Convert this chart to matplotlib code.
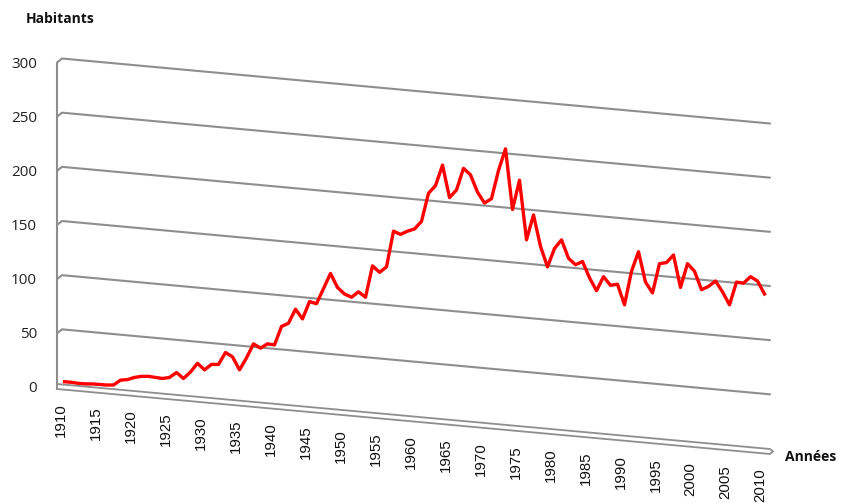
import matplotlib
matplotlib.use("Agg")
import matplotlib.pyplot as plt
import numpy as np

years = list(range(1910, 2011))
habitants = [
    3, 2.5, 1.5, 1, 1, 0.5, 0, 0, 4.5, 5,
    7, 8, 8, 7, 6, 7, 11.5, 6, 12, 20,
    14, 19, 19, 30, 26, 14, 25, 38, 34, 38,
    37, 54, 57, 70, 61, 77, 75, 89, 103, 90,
    84, 81, 86, 81, 110, 104, 109, 142, 139, 142,
    144, 151, 177, 184, 203, 173, 180, 200, 194, 178,
    168, 172, 198, 218, 162, 189, 134, 157, 128, 109,
    126, 134, 117, 111, 114, 99, 87, 100, 92, 93,
    74, 105, 123, 95, 85, 112, 113, 120, 90, 112,
    105, 88, 91, 96, 86, 74, 95, 94, 100, 96, 84,
]
ytick_values = [0, 50, 100, 150, 200, 250, 300]
xtick_years = list(range(1910, 2011, 5))
ylabel_text = "Habitants"
xlabel_text = "Années"

W, H = 845, 503
fig = plt.figure(figsize=(W / 100, H / 100), dpi=100)
ax = fig.add_axes([0, 0, 1, 1])
ax.set_axis_off()

# pixel geometry of the reference
PX_YEAR = 7.0           # pixels per year
X0_PX = 64.5            # x pixel of 1910
Y0_PX = 385.0           # y pixel (from top) of value 0 on the left wall
PX_UNIT = 325.0 / 300.0 # pixels per value unit
ax.set_xlim(1910 - X0_PX / PX_YEAR, 1910 + (W - X0_PX) / PX_YEAR)
ax.set_ylim(-(H - Y0_PX) / PX_UNIT, Y0_PX / PX_UNIT)

def px2year(xp):
    return 1910 + (xp - X0_PX) / PX_YEAR

def pxd(dp):
    return dp / PX_UNIT

SLOPE = 65.0 / 710.0  # perspective drop (px per px)

def wall(xp, v):
    """value coordinate of a point on the receding wall/floor"""
    return v - pxd((xp - 60) * SLOPE)

grid_col = "#8e8e8e"
XR = 770
# gridlines
for v in ytick_values[1:]:
    xs = [px2year(57), px2year(62), px2year(XR)]
    ys = [v - pxd(2.5), v + pxd(1.5), wall(XR, v) + pxd(1.5)]
    ax.plot(xs, ys, color=grid_col, lw=1.5, solid_capstyle="round", zorder=1)

# left wall edge
ax.plot([px2year(57), px2year(57)], [pxd(-4), 300 - pxd(2.5)], color=grid_col, lw=1.5, zorder=1)

# floor slab
fx = [px2year(57), px2year(XR), px2year(XR + 3), px2year(XR), px2year(57)]
fy = [0 + pxd(1), wall(XR, 0) + pxd(1), wall(XR, 0) - pxd(1.5), wall(XR, 0) - pxd(4), 0 - pxd(4)]
ax.fill(fx, fy, facecolor="white", edgecolor=grid_col, lw=1.3, zorder=2)

# data line
ax.plot(years, habitants, color="#ff0000", lw=2.4, solid_joinstyle="round", zorder=5)

# y tick labels
for v in ytick_values:
    ax.text(px2year(37), v - pxd(4), str(v), ha="right", va="center",
            fontsize=11, family="Open Sans", color="#222222")

# x tick labels (slanted baseline)
for yr in xtick_years:
    xp = X0_PX + (yr - 1910) * PX_YEAR - 4
    top_px = 403 + (xp - 60) * 0.093
    ax.text(px2year(xp), (Y0_PX - top_px) / PX_UNIT, str(yr), rotation=90,
            ha="center", va="top", fontsize=10.8, family="Liberation Sans", color="#111111")

# axis titles
ax.text(px2year(26), (Y0_PX - 19) / PX_UNIT, ylabel_text, ha="left", va="center",
        fontsize=10, fontweight="bold", family="Open Sans", color="#111111")
ax.text(px2year(785), (Y0_PX - 457) / PX_UNIT, xlabel_text, ha="left", va="center",
        fontsize=10, fontweight="bold", family="Open Sans", color="#111111")

fig.savefig("out.png", dpi=100, facecolor="white")
